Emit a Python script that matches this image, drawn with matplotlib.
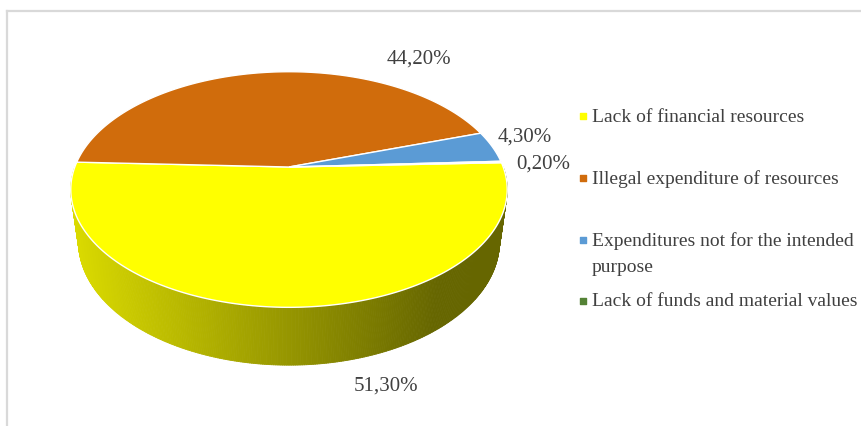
import numpy as np
import matplotlib
matplotlib.use("Agg")
import matplotlib.pyplot as plt
from matplotlib.collections import PolyCollection

# data
categories = ["Lack of financial resources",
              "Illegal expenditure of resources",
              "Expenditures not for the intended\npurpose",
              "Lack of funds and material values"]
shares = [51.3, 44.2, 4.3, 0.2]
colors = ["#FFFF00", "#D06C0C", "#5B9BD5", "#548235"]

# layout (pixel coordinates)
label_pos = [(386, 386), (419, 59), (525, 137), (543, 164)]
legend_x = 583
legend_y = [117, 179, 241, 302]
cx, cy, S = 289, 168, 950
elev = np.radians(32)
D = 5.23 * np.cos(elev)
h = 0.296
start = 2.2  # degrees, first slice starts here and runs clockwise
txt_color = "#404040"
plt.rcParams['font.family'] = ['Liberation Serif', 'DejaVu Serif']


def project(t, z):
    se, ce = np.sin(elev), np.cos(elev)
    depth = D + np.sin(t) * ce - z * se
    u = np.cos(t) / depth
    v = (np.sin(t) * se + z * ce) / depth
    return cx + S * u, cy - S * v


fig = plt.figure(figsize=(8.62, 4.27), dpi=100)
ax = fig.add_axes([0, 0, 1, 1])
ax.set_xlim(0, 862)
ax.set_ylim(427, 0)
ax.axis("off")

# frame
ax.plot([7, 7], [12, 427], color="#d9d9d9", lw=1.6)
ax.plot([7, 862], [12, 12], color="#d9d9d9", lw=1.6)

# slice angles (degrees, decreasing = clockwise)
fr = np.array(shares) / sum(shares)
bounds = start - 360 * np.concatenate([[0], np.cumsum(fr)])

# side wall (front half only)
polys, fcols = [], []
tt = np.linspace(180, 360, 361)
for a, b in zip(tt[:-1], tt[1:]):
    mid = (a + b) / 2
    # which slice owns this angle
    k = 0
    for i in range(len(shares)):
        hi, lo = bounds[i], bounds[i + 1]
        m = (mid - lo) % 360
        if m <= (hi - lo):
            k = i
            break
    ta, tb = np.radians(a), np.radians(b)
    x1, y1 = project(ta, 0)
    x2, y2 = project(tb, 0)
    x3, y3 = project(tb, -h)
    x4, y4 = project(ta, -h)
    shade = 0.86 - 0.46 * np.clip(((x1 + x2) / 2 - 70) / 370, 0, 1)
    base = np.array(matplotlib.colors.to_rgb(colors[k]))
    polys.append([(x1, y1), (x2, y2), (x3, y3), (x4, y4)])
    fcols.append(base * shade)
ax.add_collection(PolyCollection(polys, facecolors=fcols, edgecolors=fcols, linewidths=0.6))

# top faces
for i in range(len(shares)):
    t = np.radians(np.linspace(bounds[i], bounds[i + 1], 200))
    xs, ys = project(t, 0)
    xs = np.concatenate([[cx], xs])
    ys = np.concatenate([[cy], ys])
    ax.fill(xs, ys, color=colors[i], ec="white", lw=1.0, zorder=3)

# data labels
for v, (lx, ly) in zip(shares, label_pos):
    ax.text(lx, ly, f"{v:.2f}%".replace(".", ","), ha="center", va="center",
            fontsize=15, color=txt_color, zorder=5)

# legend
for c, name, ly in zip(colors, categories, legend_y):
    ax.scatter([legend_x], [ly], marker="s", s=22, color=c, zorder=5)
    ax.text(legend_x + 9, ly, name.split("\n")[0], ha="left", va="center",
            fontsize=14, color=txt_color)
    if "\n" in name:
        ax.text(legend_x + 9, ly + 27, name.split("\n")[1], ha="left", va="center",
                fontsize=14, color=txt_color)

fig.savefig("out.png", dpi=100)
